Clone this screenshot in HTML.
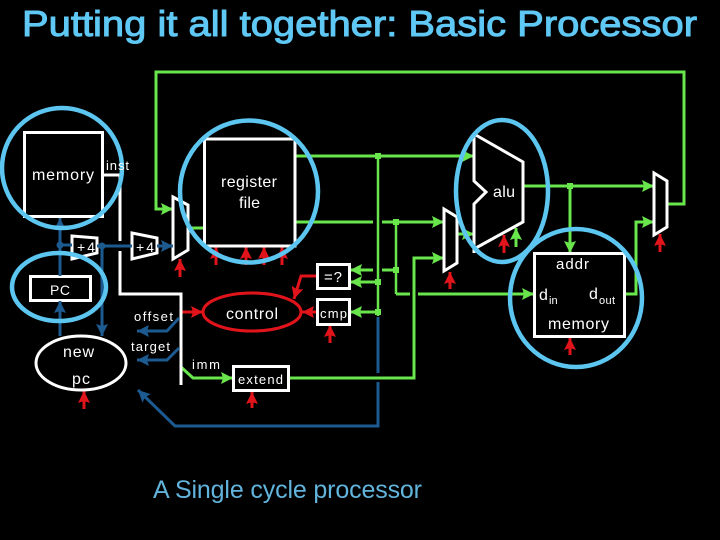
<!DOCTYPE html>
<html><head><meta charset="utf-8"><style>
html,body{margin:0;padding:0;background:#000;width:720px;height:540px;overflow:hidden}
svg{display:block}
text{font-family:"Liberation Sans",sans-serif;fill:#fff}
.g{stroke:#68e64c;stroke-width:3;fill:none}
.t{stroke:#68e64c;stroke-width:2.5;fill:none}
.b{stroke:#1c5a90;stroke-width:3;fill:none}
.r{stroke:#e0141a;stroke-width:3;fill:none}
.w{stroke:#fff;stroke-width:3;fill:none}
.c{stroke:#5cc6f0;stroke-width:4.5;fill:none}
</style></head><body>
<svg width="720" height="540" viewBox="0 0 720 540" xmlns="http://www.w3.org/2000/svg">
<defs>
<marker id="ag" markerUnits="userSpaceOnUse" markerWidth="13" markerHeight="13" refX="12" refY="6" orient="auto"><path d="M0 0L12 6L0 12L2 6Z" fill="#68e64c"/></marker>
<marker id="ab" markerUnits="userSpaceOnUse" markerWidth="13" markerHeight="13" refX="12" refY="6" orient="auto"><path d="M0 0L12 6L0 12L2 6Z" fill="#1c5a90"/></marker>
<marker id="ar" markerUnits="userSpaceOnUse" markerWidth="13" markerHeight="13" refX="12" refY="6" orient="auto"><path d="M0 0L12 6L0 12L2 6Z" fill="#e0141a"/></marker>
</defs>
<text x="22" y="36" font-size="36" style="fill:#5fc8f5;stroke:#5fc8f5;stroke-width:1" textLength="675" lengthAdjust="spacingAndGlyphs">Putting it all together: Basic Processor</text>

<!-- green wires -->
<path class="g" marker-end="url(#ag)" d="M667 204H684V72H156V209H173"/>
<path class="g" d="M188 228H204"/>
<path class="g" marker-end="url(#ag)" d="M295 156H474"/>
<path class="g" d="M295 222H373"/>
<path class="g" marker-end="url(#ag)" d="M382 222H444"/>
<path class="t" d="M378 156V316"/>
<path class="t" d="M396 222V294"/>
<path class="g" d="M396 294H410"/>
<path class="g" marker-end="url(#ag)" d="M418 294H534"/>
<path class="g" d="M396 270H382"/>
<path class="g" marker-end="url(#ag)" d="M373 270H350"/>
<path class="g" marker-end="url(#ag)" d="M378 282H350"/>
<path class="g" marker-end="url(#ag)" d="M378 312H350"/>
<path class="g" marker-end="url(#ag)" d="M289 378H414V258H444"/>
<path class="g" marker-end="url(#ag)" d="M181 367L193 378H233"/>
<path class="g" marker-end="url(#ag)" d="M457 234H474"/>
<path class="g" marker-end="url(#ag)" d="M523 186H654"/>
<path class="g" marker-end="url(#ag)" d="M570 186V253"/>
<path class="g" marker-end="url(#ag)" d="M625 294H636V222H654"/>
<path class="g" marker-end="url(#ag)" d="M516 247V228"/>
<g fill="#68e64c"><rect x="375" y="153" width="6" height="6"/><rect x="393" y="219" width="6" height="6"/><rect x="393" y="267" width="6" height="6"/><rect x="375" y="279" width="6" height="6"/><rect x="375" y="309" width="6" height="6"/><rect x="567" y="183" width="6" height="6"/></g>

<!-- red wires -->
<g class="r">
<path marker-end="url(#ar)" d="M181 312H203"/>
<path marker-end="url(#ar)" d="M317 312H302"/>
<path marker-end="url(#ar)" d="M317 276H301L294 299"/>
<path marker-end="url(#ar)" d="M180 277V259"/>
<path marker-end="url(#ar)" d="M216 265V247"/>
<path marker-end="url(#ar)" d="M246 265V247"/>
<path marker-end="url(#ar)" d="M264 265V247"/>
<path marker-end="url(#ar)" d="M282 265V247"/>
<path marker-end="url(#ar)" d="M450 289V272"/>
<path marker-end="url(#ar)" d="M504 253V235"/>
<path marker-end="url(#ar)" d="M660 252V234"/>
<path marker-end="url(#ar)" d="M570 355V338"/>
<path marker-end="url(#ar)" d="M84 409V391"/>
<path marker-end="url(#ar)" d="M252 408V392"/>
<path marker-end="url(#ar)" d="M330 343V325"/>
</g>
<ellipse cx="252" cy="312" rx="49" ry="19" fill="#000" stroke="#e0141a" stroke-width="3"/>

<!-- white shapes -->
<g class="w">
<rect x="24.5" y="132.5" width="78" height="84"/>
<path d="M102 175H120V241M120 251V294H181V385"/>
<rect x="30.5" y="276.5" width="60" height="24"/>
<ellipse cx="81" cy="363" rx="45" ry="27"/>
<rect x="204.5" y="139" width="90.5" height="107"/>
<rect x="534.5" y="253.5" width="90" height="83"/>
<rect x="233.5" y="366.5" width="55" height="24"/>
<rect x="317.5" y="264.5" width="32" height="24"/>
<rect x="317.5" y="299.5" width="32" height="25"/>
<path d="M72 236L97 238V253L72 259Z"/>
<path d="M132 233L157 238V253L132 259Z"/>
<path d="M173 197L188 205V250L173 259Z"/>
<path d="M444 209L457 217V263L444 271Z"/>
<path d="M654 173L667 181V227L654 235Z"/>
<path d="M474 134L523 162V222L474 249M474 253V204L486 192L474 181V134"/>
</g>

<!-- blue wires -->
<path class="b" marker-end="url(#ab)" d="M60 276V218"/>
<path class="b" d="M60 245H72"/>
<path class="b" d="M97 246H132"/>
<path class="b" marker-end="url(#ab)" d="M157 246H173"/>
<path class="b" marker-end="url(#ab)" d="M102 246V336"/>
<path class="b" marker-end="url(#ab)" d="M60 336V301"/>
<path class="b" marker-end="url(#ab)" d="M179 318L167 331H137"/>
<path class="b" marker-end="url(#ab)" d="M179 348L167 360H137"/>
<path class="b" d="M378 317V373"/>
<path class="b" marker-end="url(#ab)" d="M378 382V426H175L138 390"/>
<g fill="#1c5a90"><circle cx="60" cy="245" r="3.5"/><circle cx="102" cy="246" r="3.5"/></g>

<!-- rings -->
<g class="c">
<ellipse cx="62" cy="168" rx="60" ry="60"/>
<ellipse cx="59" cy="287" rx="47" ry="34"/>
<ellipse cx="249" cy="191.5" rx="69" ry="71"/>
<ellipse cx="502" cy="191" rx="46" ry="71"/>
<ellipse cx="576" cy="298" rx="66" ry="69"/>
</g>

<!-- labels -->
<text x="32" y="180" font-size="16" textLength="62">memory</text>
<text x="106" y="170" font-size="13" textLength="23">inst</text>
<text x="221" y="187" font-size="16" textLength="56">register</text>
<text x="239" y="208" font-size="16" textLength="21">file</text>
<text x="493" y="197" font-size="16" textLength="22">alu</text>
<text x="77" y="252" font-size="14" textLength="18">+4</text>
<text x="136" y="252" font-size="14" textLength="18">+4</text>
<text x="50" y="295" font-size="14" textLength="20">PC</text>
<text x="63" y="357" font-size="16" textLength="31">new</text>
<text x="72" y="384" font-size="16" textLength="18">pc</text>
<text x="134" y="321" font-size="13" textLength="39">offset</text>
<text x="131" y="351" font-size="13" textLength="39">target</text>
<text x="192" y="369" font-size="13" textLength="28">imm</text>
<text x="238" y="384" font-size="13" textLength="45">extend</text>
<text x="226" y="319" font-size="16" textLength="52">control</text>
<text x="320" y="318" font-size="13" textLength="27">cmp</text>
<text x="324" y="282" font-size="15" textLength="18">=?</text>
<text x="556" y="269" font-size="15" textLength="33">addr</text>
<text x="539" y="300" font-size="16">d</text>
<text x="549" y="304" font-size="11">in</text>
<text x="589" y="299" font-size="16">d</text>
<text x="599" y="304" font-size="11" textLength="16">out</text>
<text x="548" y="329" font-size="16" textLength="61">memory</text>
<text x="153" y="498" font-size="25" style="fill:#62b4dc" textLength="269">A Single cycle processor</text>
</svg>
</body></html>
